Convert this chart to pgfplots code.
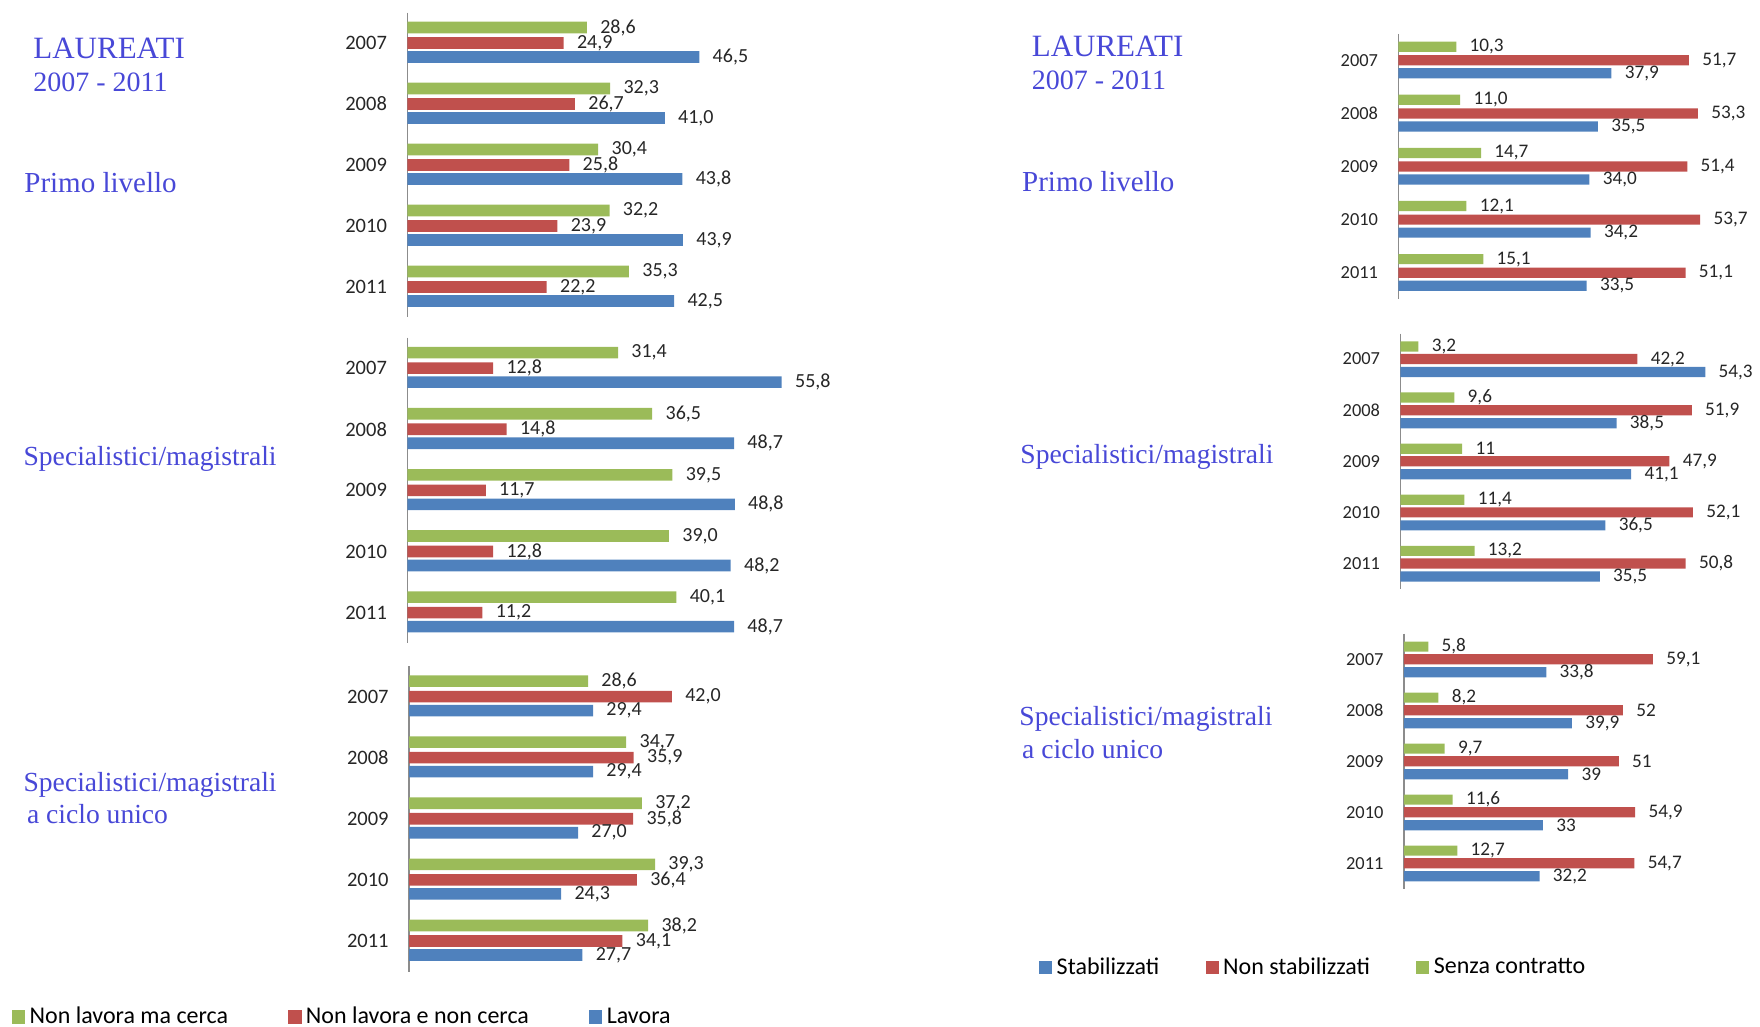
\documentclass[border=0pt]{standalone}
\usepackage{fontspec}
\setmainfont{Carlito}
\newfontfamily\titlefont{Liberation Serif}
\usepackage{pgfplots}
\pgfplotsset{compat=1.18}

\definecolor{xlblue}{HTML}{4F81BD}
\definecolor{xlred}{HTML}{C0504D}
\definecolor{xlgreen}{HTML}{9BBB59}
\definecolor{axisgray}{HTML}{8C8C8C}
\definecolor{titleblue}{RGB}{72,72,215}

\pgfplotsset{
  /pgf/number format/assume math mode=true,
  panel/.style={
    xbar, scale only axis, anchor=north west, clip=false,
    xmin=0, xmax=60, ymin=-0.5, ymax=4.5, y dir=reverse,
    axis x line=none, axis y line=left,
    y axis line style={-, draw=axisgray, line width=0.8pt},
    ytick={0,1,2,3,4}, yticklabels={2007,2008,2009,2010,2011},
    major tick length=0pt,
    yticklabel style={inner sep=0pt, anchor=east, xshift=-10pt, text=black!85},
    point meta=x,
    every node near coord/.append style={anchor=west, inner sep=0pt, xshift=6.5pt, text=black!85},
    legend image code/.code={\fill[#1,draw=none] (0pt,-3.3pt) rectangle (6.6pt,3.3pt);},
  },
  leftpanel/.style={panel,
    bar width=5.8pt,
    yticklabel style={font=\fontsize{10.25}{12}\selectfont},
    every node near coord/.append style={font=\fontsize{10}{12}\selectfont},
    nodes near coords={\pgfmathprintnumber[fixed,fixed zerofill,precision=1,use comma]{\pgfplotspointmeta}},
  },
  rightpanel/.style={panel,
    bar width=5.1pt,
    yticklabel style={font=\fontsize{9.2}{11}\selectfont},
    every node near coord/.append style={font=\fontsize{9.6}{11}\selectfont},
  },
  zerofill/.style={nodes near coords={\pgfmathprintnumber[fixed,fixed zerofill,precision=1,use comma]{\pgfplotspointmeta}}},
  nozero/.style={nodes near coords={\pgfmathprintnumber[fixed,precision=1,use comma]{\pgfplotspointmeta}}},
}

\begin{document}
\begin{tikzpicture}
\path[use as bounding box] (0,0) rectangle (880pt,-513.5pt);

% titles, left column
\node[anchor=base west, inner sep=0pt, text=titleblue, font=\titlefont\fontsize{15.5}{18}\selectfont] at (16.5pt,-29.5pt) {LAUREATI};
\node[anchor=base west, inner sep=0pt, text=titleblue, font=\titlefont\fontsize{14}{17}\selectfont] at (16.5pt,-46pt) {2007 - 2011};
\node[anchor=base west, inner sep=0pt, text=titleblue, font=\titlefont\fontsize{14.5}{17}\selectfont] at (12pt,-96.5pt) {Primo livello};
\node[anchor=base west, inner sep=0pt, text=titleblue, font=\titlefont\fontsize{13.8}{17}\selectfont] at (11.6pt,-232.5pt) {Specialistici/magistrali};
\node[anchor=base west, inner sep=0pt, text=titleblue, font=\titlefont\fontsize{13.8}{17}\selectfont] at (11.6pt,-395.8pt) {Specialistici/magistrali};
\node[anchor=base west, inner sep=0pt, text=titleblue, font=\titlefont\fontsize{13.8}{17}\selectfont] at (13.3pt,-411.5pt) {a ciclo unico};

% titles, right column
\node[anchor=base west, inner sep=0pt, text=titleblue, font=\titlefont\fontsize{15.5}{18}\selectfont] at (515.7pt,-28.4pt) {LAUREATI};
\node[anchor=base west, inner sep=0pt, text=titleblue, font=\titlefont\fontsize{14}{17}\selectfont] at (515.7pt,-45pt) {2007 - 2011};
\node[anchor=base west, inner sep=0pt, text=titleblue, font=\titlefont\fontsize{14.5}{17}\selectfont] at (510.9pt,-95.9pt) {Primo livello};
\node[anchor=base west, inner sep=0pt, text=titleblue, font=\titlefont\fontsize{13.8}{17}\selectfont] at (510pt,-231.7pt) {Specialistici/magistrali};
\node[anchor=base west, inner sep=0pt, text=titleblue, font=\titlefont\fontsize{13.8}{17}\selectfont] at (509.5pt,-362.5pt) {Specialistici/magistrali};
\node[anchor=base west, inner sep=0pt, text=titleblue, font=\titlefont\fontsize{13.8}{17}\selectfont] at (510.9pt,-379.2pt) {a ciclo unico};

% ---- left: Primo livello
\begin{axis}[leftpanel, at={(203.65pt,-6.25pt)}, width=188.4pt, height=152.5pt]
\addplot[fill=xlgreen, draw=none, bar shift=7.75pt] coordinates {(28.6,0) (32.3,1) (30.4,2) (32.2,3) (35.3,4)};
\addplot[fill=xlred, draw=none, bar shift=0pt] coordinates {(24.9,0) (26.7,1) (25.8,2) (23.9,3) (22.2,4)};
\addplot[fill=xlblue, draw=none, bar shift=-7pt] coordinates {(46.5,0) (41.0,1) (43.8,2) (43.9,3) (42.5,4)};
\end{axis}

% ---- left: Specialistici/magistrali
\begin{axis}[leftpanel, at={(203.65pt,-168.8pt)}, width=201.3pt, height=152.75pt]
\addplot[fill=xlgreen, draw=none, bar shift=7.75pt] coordinates {(31.4,0) (36.5,1) (39.5,2) (39.0,3) (40.1,4)};
\addplot[fill=xlred, draw=none, bar shift=0pt] coordinates {(12.8,0) (14.8,1) (11.7,2) (12.8,3) (11.2,4)};
\addplot[fill=xlblue, draw=none, bar shift=-7pt] coordinates {(55.8,0) (48.7,1) (48.8,2) (48.2,3) (48.7,4)};
\end{axis}

% ---- left: a ciclo unico
\begin{axis}[leftpanel, at={(204.5pt,-333pt)}, width=187.8pt, height=152.75pt,
  legend columns=-1,
  legend style={at={(axis description cs:-1.057,-0.149)}, anchor=west, draw=none, fill=none,
    inner sep=0pt, outer sep=0pt, font=\fontsize{12}{14}\selectfont,
    nodes={inner sep=0.6pt},
    /tikz/every odd column/.style={column sep=1.6pt},
    /tikz/every even column/.style={column sep=29.5pt}}]
\addplot[fill=xlgreen, draw=none, bar shift=7.75pt] coordinates {(28.6,0) (34.7,1) (37.2,2) (39.3,3) (38.2,4)};
\addplot[fill=xlred, draw=none, bar shift=0pt] coordinates {(42.0,0) (35.9,1) (35.8,2) (36.4,3) (34.1,4)};
\addplot[fill=xlblue, draw=none, bar shift=-7pt] coordinates {(29.4,0) (29.4,1) (27.0,2) (24.3,3) (27.7,4)};
\legend{Non lavora ma cerca, Non lavora e non cerca, Lavora}
\end{axis}

% ---- right: Primo livello
\begin{axis}[rightpanel, zerofill, at={(699.2pt,-16.9pt)}, width=168.6pt, height=132.75pt]
\addplot[fill=xlblue, draw=none, bar shift=-6.5pt] coordinates {(37.9,0) (35.5,1) (34.0,2) (34.2,3) (33.5,4)};
\addplot[fill=xlred, draw=none, bar shift=0pt] coordinates {(51.7,0) (53.3,1) (51.4,2) (53.7,3) (51.1,4)};
\addplot[fill=xlgreen, draw=none, bar shift=6.8pt] coordinates {(10.3,0) (11.0,1) (14.7,2) (12.1,3) (15.1,4)};
\end{axis}

% ---- right: Specialistici/magistrali
\begin{axis}[rightpanel, nozero, at={(700.2pt,-166.75pt)}, width=168.45pt, height=127.75pt]
\addplot[fill=xlblue, draw=none, bar shift=-6.5pt] coordinates {(54.3,0) (38.5,1) (41.1,2) (36.5,3) (35.5,4)};
\addplot[fill=xlred, draw=none, bar shift=0pt] coordinates {(42.2,0) (51.9,1) (47.9,2) (52.1,3) (50.8,4)};
\addplot[fill=xlgreen, draw=none, bar shift=6.3pt] coordinates {(3.2,0) (9.6,1) (11,2) (11.4,3) (13.2,4)};
\end{axis}

% ---- right: a ciclo unico
\begin{axis}[rightpanel, nozero, at={(701.9pt,-316.85pt)}, width=126.45pt, height=127.5pt,
  legend columns=-1,
  legend style={at={(axis description cs:-1.442,-0.309)}, anchor=west, draw=none, fill=none,
    inner sep=0pt, outer sep=0pt, font=\fontsize{12}{14}\selectfont,
    nodes={inner sep=0.6pt},
    /tikz/every odd column/.style={column sep=1.6pt},
    /tikz/every even column/.style={column sep=22.5pt}}]
\addplot[fill=xlblue, draw=none, bar shift=-6.5pt] coordinates {(33.8,0) (39.9,1) (39,2) (33,3) (32.2,4)};
\addplot[fill=xlred, draw=none, bar shift=0pt] coordinates {(59.1,0) (52,1) (51,2) (54.9,3) (54.7,4)};
\addplot[fill=xlgreen, draw=none, bar shift=6.3pt] coordinates {(5.8,0) (8.2,1) (9.7,2) (11.6,3) (12.7,4)};
\legend{Stabilizzati, Non stabilizzati, Senza contratto}
\end{axis}
\end{tikzpicture}
\end{document}
